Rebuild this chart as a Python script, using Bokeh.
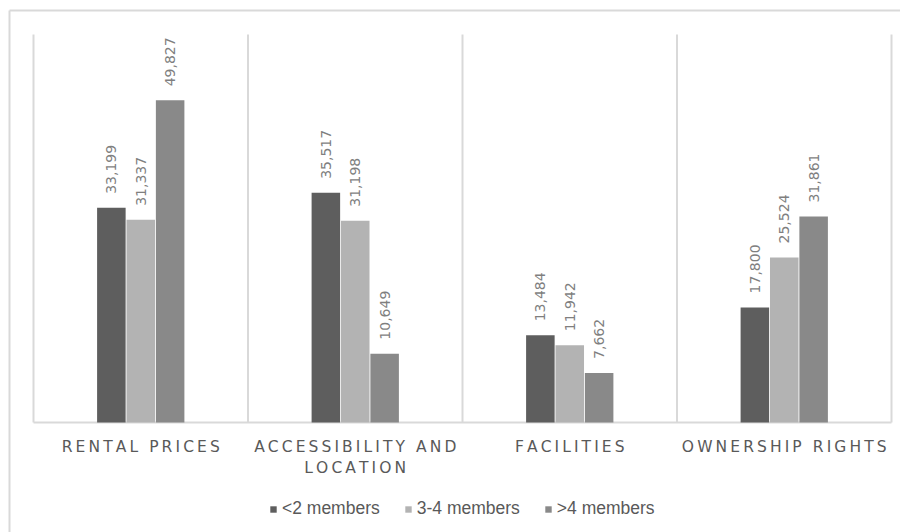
import math
from bokeh.plotting import figure
from bokeh.models import ColumnDataSource, Range1d, LabelSet, Legend, LegendItem
from bokeh.core.properties import value
from bokeh.embed import file_html
from bokeh.resources import INLINE

categories = ["RENTAL PRICES", "ACCESSIBILITY AND\nLOCATION", "FACILITIES", "OWNERSHIP RIGHTS"]
series = ["<2 members", "3-4 members", ">4 members"]
lt2 = [33199, 35517, 13484, 17800]
m34 = [31337, 31198, 11942, 25524]
gt4 = [49827, 10649, 7662, 31861]
y_max = 60000

colors = ["#5e5e5e", "#b3b3b3", "#898989"]
offsets = [-0.137, 0.0, 0.137]

W, H = 900, 532
plot_left, plot_right, plot_top, plot_bottom = 33, 891, 34, 422
px_per_cat = (plot_right - plot_left) / len(categories)
px_per_val = (plot_bottom - plot_top) / y_max

x_range = Range1d(-plot_left / px_per_cat, len(categories) + (W - plot_right) / px_per_cat)
y_range = Range1d(-(H - plot_bottom) / px_per_val, y_max + plot_top / px_per_val)

p = figure(x_range=x_range, y_range=y_range, width=W, height=H,
           output_backend="svg", toolbar_location=None,
           x_axis_location=None, y_axis_location=None,
           min_border=0, min_border_left=0, min_border_right=0,
           min_border_top=0, min_border_bottom=0)
p.outline_line_color = None
p.xgrid.visible = False
p.ygrid.visible = False

grid_col = "#d9d9d9"
# outer chart border (top and left edges visible)
bx = -(plot_left - 9) / px_per_cat
by = y_max + (plot_top - 10) / px_per_val
p.segment(x0=[bx, bx], y0=[by, by], x1=[x_range.end + 1, bx], y1=[by, y_range.start - 1000],
          line_color=grid_col, line_width=2)

# category separators and baseline
seps = list(range(len(categories) + 1))
p.segment(x0=seps, y0=[0] * len(seps), x1=seps, y1=[y_max] * len(seps),
          line_color=grid_col, line_width=2)
p.segment(x0=[0], y0=[0], x1=[len(categories)], y1=[0], line_color=grid_col, line_width=2)

def spaced(s):
    return "\u2009".join(list(s))

centers = [i + 0.5 for i in range(len(categories))]
items = []
for vals, name, col, off in zip([lt2, m34, gt4], series, colors, offsets):
    src = ColumnDataSource(dict(x=[c + off for c in centers], val=vals,
                                txt=[f"{v:,}" for v in vals]))
    r = p.vbar(x="x", top="val", bottom=0, width=0.133, source=src,
               fill_color=col, line_color=None)
    items.append(LegendItem(label=name, renderers=[r]))
    p.add_layout(LabelSet(x="x", y="val", text="txt", source=src,
                          angle=math.pi / 2, text_align="left", text_baseline="middle",
                          y_offset=14, text_font=value("DejaVu Sans"), text_font_size="14px",
                          text_color="#7f7f7f"))

# category labels, one LabelSet per text line so every line is centred
lines = [c.split("\n") for c in categories]
n_lines = max(len(l) for l in lines)
for k in range(n_lines):
    xs = [centers[i] for i, l in enumerate(lines) if len(l) > k]
    txt = [spaced(l[k]) for l in lines if len(l) > k]
    src = ColumnDataSource(dict(x=xs, y=[0] * len(xs), txt=txt))
    p.add_layout(LabelSet(x="x", y="y", text="txt", source=src,
                          text_align="center", text_baseline="top", y_offset=-15 - 21 * k,
                          text_font=value("DejaVu Sans"), text_font_size="15.5px",
                          text_color="#595959"))

legend = Legend(items=items, orientation="horizontal", location=(269, 13),
                border_line_color=None, background_fill_alpha=0,
                glyph_width=8, glyph_height=8, label_standoff=5, spacing=24,
                label_text_font="Liberation Sans", label_text_font_size="17.5px",
                label_text_color="#595959", margin=0, padding=4)
p.add_layout(legend, "center")

open("out.html", "w").write(file_html(p, INLINE))
